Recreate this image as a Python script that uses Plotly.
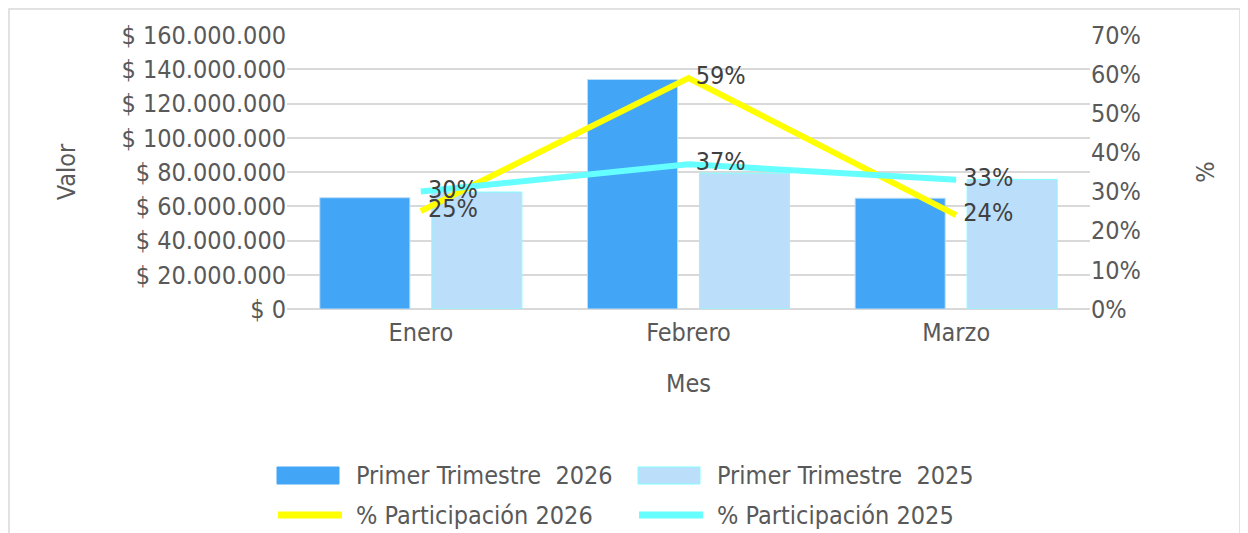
import plotly.graph_objects as go

meses = ["Enero", "Febrero", "Marzo"]
valor_2026 = [65000000, 134000000, 64700000]
valor_2025 = [68300000, 79300000, 75700000]
pct_2026 = [0.25, 0.59, 0.24]
pct_2025 = [0.30, 0.37, 0.33]
y_tickvals = [0, 20000000, 40000000, 60000000, 80000000, 100000000, 120000000, 140000000, 160000000]
y_ticktext = ["$ 0", "$ 20.000.000", "$ 40.000.000", "$ 60.000.000", "$ 80.000.000",
              "$ 100.000.000", "$ 120.000.000", "$ 140.000.000", "$ 160.000.000"]
y2_tickvals = [0, 0.1, 0.2, 0.3, 0.4, 0.5, 0.6, 0.7]
y2_ticktext = ["0%", "10%", "20%", "30%", "40%", "50%", "60%", "70%"]
series_names = ["Primer Trimestre  2026", "Primer Trimestre  2025",
                "% Participación 2026", "% Participación 2025"]

FONT = "DejaVu Sans Condensed"
FS = 25
GRAY = "#595959"
C_BAR26, C_BAR25 = "#42A5F5", "#BBDEFB"
C_LN26, C_LN25 = "#FFFF00", "#66FFFF"
W, H = 1248, 533
OFF = 8
L, T = 287 - OFF, 35 - OFF
PW, PH = 803, 274
R = W - L - PW
B = H - T - PH

def px(x):
    return (x - OFF - L) / PW
def py(y):
    return (H - B - (y - OFF)) / PH

NB = "\u00a0"

fig = go.Figure()
fig.add_trace(go.Bar(x=meses, y=valor_2026, name=series_names[0], showlegend=False,
                     marker=dict(color=C_BAR26, line=dict(color=C_BAR25, width=1))))
fig.add_trace(go.Bar(x=meses, y=valor_2025, name=series_names[1], showlegend=False,
                     marker=dict(color=C_BAR25, line=dict(color="#80FFFF", width=1))))
fig.add_trace(go.Scatter(x=meses, y=pct_2026, name=series_names[2], yaxis="y2", showlegend=False,
                         mode="lines+text", line=dict(color=C_LN26, width=6),
                         text=[f"{NB}{round(v*100)}%" for v in pct_2026], textposition="middle right",
                         textfont=dict(size=FS, color="#404040", family=FONT)))
fig.add_trace(go.Scatter(x=meses, y=pct_2025, name=series_names[3], yaxis="y2", showlegend=False,
                         mode="lines+text", line=dict(color=C_LN25, width=6),
                         text=[f"{NB}{round(v*100)}%" for v in pct_2025], textposition="middle right",
                         textfont=dict(size=FS, color="#404040", family=FONT)))

# manual legend (2 x 2 grid)
shapes = [dict(type="rect", xref="paper", yref="paper",
               x0=px(9), x1=px(1240), y0=py(560), y1=py(9),
               line=dict(color="#D9D9D9", width=1.5), fillcolor="rgba(0,0,0,0)", layer="below")]
annotations = []
leg_cols = [277, 638]
leg_rows = [475, 515]
for i, nm in enumerate(series_names):
    col, row = i % 2, i // 2
    x0 = leg_cols[col]
    yc = leg_rows[row]
    if row == 0:
        fill = C_BAR26 if col == 0 else C_BAR25
        edge = fill if col == 0 else "#80FFFF"
        shapes.append(dict(type="rect", xref="paper", yref="paper",
                           x0=px(x0), x1=px(x0 + 62), y0=py(yc + 9), y1=py(yc - 8),
                           fillcolor=fill, line=dict(color=edge, width=1)))
    else:
        color = C_LN26 if col == 0 else C_LN25
        shapes.append(dict(type="line", xref="paper", yref="paper",
                           x0=px(x0 + 1), x1=px(x0 + 65), y0=py(yc), y1=py(yc),
                           line=dict(color=color, width=7)))
    annotations.append(dict(text=nm, xref="paper", yref="paper", x=px(x0 + 77), y=py(yc),
                            xanchor="left", yanchor="middle", showarrow=False,
                            font=dict(size=FS, color=GRAY, family=FONT)))

fig.update_layout(
    width=W, height=H,
    margin=dict(l=L, r=R, t=T, b=B, autoexpand=False),
    paper_bgcolor="white", plot_bgcolor="white",
    font=dict(family=FONT, size=FS, color=GRAY),
    barmode="group", bargap=0.163, bargroupgap=0.196,
    showlegend=False,
    xaxis=dict(title=dict(text="Mes", font=dict(size=FS, color=GRAY), standoff=28),
               showgrid=False, ticks="", ticklabelstandoff=6, tickfont=dict(size=FS, color=GRAY)),
    yaxis=dict(title=dict(text="Valor", font=dict(size=FS, color=GRAY), standoff=38),
               range=[0, 160000000], tickvals=y_tickvals, ticktext=y_ticktext,
               gridcolor="#D9D9D9", gridwidth=1.5, zeroline=True, zerolinecolor="#D9D9D9",
               zerolinewidth=2, ticks="", tickfont=dict(size=FS, color=GRAY)),
    yaxis2=dict(title=dict(text="%", font=dict(size=FS, color=GRAY), standoff=56),
                overlaying="y", side="right", range=[0, 0.7], tickvals=y2_tickvals,
                ticktext=y2_ticktext, showgrid=False, zeroline=False, ticks="",
                tickfont=dict(size=FS, color=GRAY)),
    shapes=shapes,
    annotations=annotations,
)

fig.write_html("out.html")
